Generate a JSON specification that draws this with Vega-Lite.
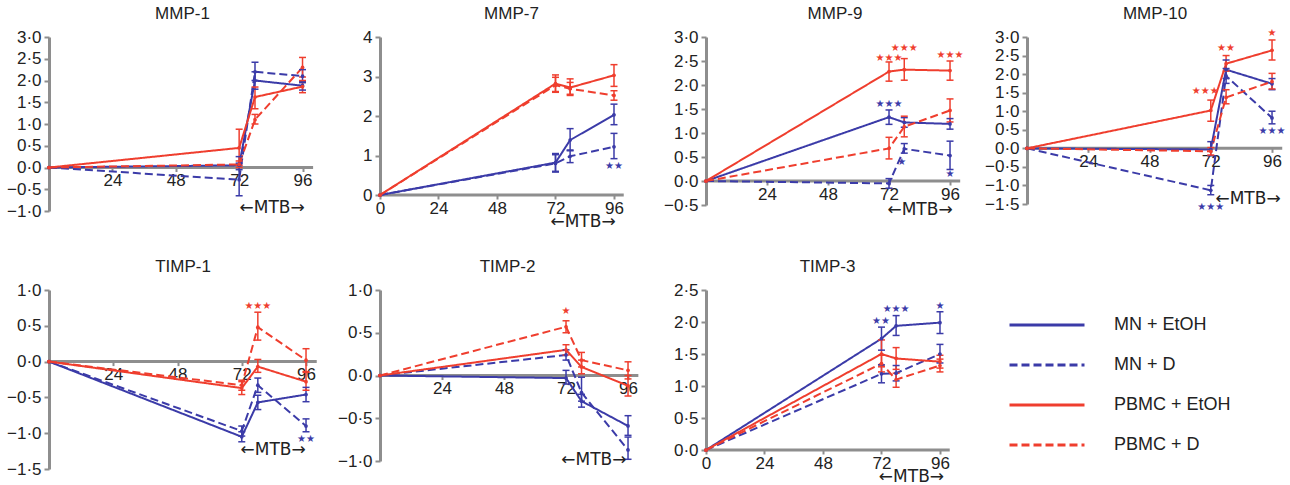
{
"$schema":"https://vega.github.io/schema/vega-lite/v6.json",
"padding":{"left":6,"top":5,"right":5,"bottom":5},
"background":"white",
"datasets":{
"d":[
{"p":"MMP-1","g":"MN + EtOH","t":0,"v":0},{"p":"MMP-1","g":"MN + EtOH","t":72,"v":0.05,"lo":-0.05,"hi":0.25},{"p":"MMP-1","g":"MN + EtOH","t":78,"v":2.0,"lo":1.8,"hi":2.2},{"p":"MMP-1","g":"MN + EtOH","t":96,"v":1.88,"lo":1.78,"hi":1.98},
{"p":"MMP-1","g":"MN + D","t":0,"v":0},{"p":"MMP-1","g":"MN + D","t":72,"v":-0.28,"lo":-0.65,"hi":0.1},{"p":"MMP-1","g":"MN + D","t":78,"v":2.2,"lo":2.0,"hi":2.42},{"p":"MMP-1","g":"MN + D","t":96,"v":2.1,"lo":1.95,"hi":2.25},
{"p":"MMP-1","g":"PBMC + EtOH","t":0,"v":0},{"p":"MMP-1","g":"PBMC + EtOH","t":72,"v":0.45,"lo":0.05,"hi":0.88},{"p":"MMP-1","g":"PBMC + EtOH","t":78,"v":1.62,"lo":1.35,"hi":1.85},{"p":"MMP-1","g":"PBMC + EtOH","t":96,"v":1.86,"lo":1.72,"hi":2.0},
{"p":"MMP-1","g":"PBMC + D","t":0,"v":0},{"p":"MMP-1","g":"PBMC + D","t":72,"v":0.07,"lo":0.0,"hi":0.15},{"p":"MMP-1","g":"PBMC + D","t":78,"v":1.1,"lo":1.0,"hi":1.22},{"p":"MMP-1","g":"PBMC + D","t":96,"v":2.3,"lo":2.08,"hi":2.53},

{"p":"MMP-7","g":"MN + EtOH","t":0,"v":0},{"p":"MMP-7","g":"MN + EtOH","t":72,"v":0.82,"lo":0.6,"hi":1.05},{"p":"MMP-7","g":"MN + EtOH","t":78,"v":1.39,"lo":1.12,"hi":1.68},{"p":"MMP-7","g":"MN + EtOH","t":96,"v":2.03,"lo":1.78,"hi":2.3},
{"p":"MMP-7","g":"MN + D","t":0,"v":0},{"p":"MMP-7","g":"MN + D","t":72,"v":0.8,"lo":0.58,"hi":1.02},{"p":"MMP-7","g":"MN + D","t":78,"v":0.98,"lo":0.82,"hi":1.14},{"p":"MMP-7","g":"MN + D","t":96,"v":1.22,"lo":0.92,"hi":1.56},
{"p":"MMP-7","g":"PBMC + EtOH","t":0,"v":0},{"p":"MMP-7","g":"PBMC + EtOH","t":72,"v":2.82,"lo":2.62,"hi":3.04},{"p":"MMP-7","g":"PBMC + EtOH","t":78,"v":2.72,"lo":2.52,"hi":2.94},{"p":"MMP-7","g":"PBMC + EtOH","t":96,"v":3.03,"lo":2.75,"hi":3.3},
{"p":"MMP-7","g":"PBMC + D","t":0,"v":0},{"p":"MMP-7","g":"PBMC + D","t":72,"v":2.78,"lo":2.6,"hi":2.98},{"p":"MMP-7","g":"PBMC + D","t":78,"v":2.69,"lo":2.55,"hi":2.85},{"p":"MMP-7","g":"PBMC + D","t":96,"v":2.52,"lo":2.4,"hi":2.64},

{"p":"MMP-9","g":"MN + EtOH","t":0,"v":0},{"p":"MMP-9","g":"MN + EtOH","t":72,"v":1.33,"lo":1.18,"hi":1.48},{"p":"MMP-9","g":"MN + EtOH","t":78,"v":1.22,"lo":1.12,"hi":1.32},{"p":"MMP-9","g":"MN + EtOH","t":96,"v":1.19,"lo":1.08,"hi":1.3},
{"p":"MMP-9","g":"MN + D","t":0,"v":0},{"p":"MMP-9","g":"MN + D","t":72,"v":-0.05,"lo":-0.15,"hi":0.05},{"p":"MMP-9","g":"MN + D","t":78,"v":0.67,"lo":0.58,"hi":0.78},{"p":"MMP-9","g":"MN + D","t":96,"v":0.53,"lo":0.24,"hi":0.83},
{"p":"MMP-9","g":"PBMC + EtOH","t":0,"v":0},{"p":"MMP-9","g":"PBMC + EtOH","t":72,"v":2.28,"lo":2.08,"hi":2.48},{"p":"MMP-9","g":"PBMC + EtOH","t":78,"v":2.32,"lo":2.1,"hi":2.55},{"p":"MMP-9","g":"PBMC + EtOH","t":96,"v":2.3,"lo":2.1,"hi":2.5},
{"p":"MMP-9","g":"PBMC + D","t":0,"v":0},{"p":"MMP-9","g":"PBMC + D","t":72,"v":0.68,"lo":0.46,"hi":0.91},{"p":"MMP-9","g":"PBMC + D","t":78,"v":1.13,"lo":0.92,"hi":1.35},{"p":"MMP-9","g":"PBMC + D","t":96,"v":1.47,"lo":1.23,"hi":1.71},

{"p":"MMP-10","g":"MN + EtOH","t":0,"v":0},{"p":"MMP-10","g":"MN + EtOH","t":72,"v":-0.03,"lo":-0.2,"hi":0.18},{"p":"MMP-10","g":"MN + EtOH","t":78,"v":2.12,"lo":1.88,"hi":2.38},{"p":"MMP-10","g":"MN + EtOH","t":96,"v":1.74,"lo":1.58,"hi":1.88},
{"p":"MMP-10","g":"MN + D","t":0,"v":0},{"p":"MMP-10","g":"MN + D","t":72,"v":-1.13,"lo":-1.25,"hi":-1.0},{"p":"MMP-10","g":"MN + D","t":78,"v":1.95,"lo":1.75,"hi":2.15},{"p":"MMP-10","g":"MN + D","t":96,"v":0.82,"lo":0.66,"hi":1.0},
{"p":"MMP-10","g":"PBMC + EtOH","t":0,"v":0},{"p":"MMP-10","g":"PBMC + EtOH","t":72,"v":1.02,"lo":0.73,"hi":1.3},{"p":"MMP-10","g":"PBMC + EtOH","t":78,"v":2.28,"lo":2.08,"hi":2.5},{"p":"MMP-10","g":"PBMC + EtOH","t":96,"v":2.64,"lo":2.38,"hi":2.92},
{"p":"MMP-10","g":"PBMC + D","t":0,"v":0},{"p":"MMP-10","g":"PBMC + D","t":72,"v":-0.08,"lo":-0.18,"hi":0.02},{"p":"MMP-10","g":"PBMC + D","t":78,"v":1.37,"lo":1.2,"hi":1.58},{"p":"MMP-10","g":"PBMC + D","t":96,"v":1.8,"lo":1.6,"hi":2.02},

{"p":"TIMP-1","g":"MN + EtOH","t":0,"v":0},{"p":"TIMP-1","g":"MN + EtOH","t":72,"v":-1.05,"lo":-1.12,"hi":-0.98},{"p":"TIMP-1","g":"MN + EtOH","t":78,"v":-0.57,"lo":-0.67,"hi":-0.47},{"p":"TIMP-1","g":"MN + EtOH","t":96,"v":-0.46,"lo":-0.56,"hi":-0.36},
{"p":"TIMP-1","g":"MN + D","t":0,"v":0},{"p":"TIMP-1","g":"MN + D","t":72,"v":-0.97,"lo":-1.04,"hi":-0.9},{"p":"TIMP-1","g":"MN + D","t":78,"v":-0.33,"lo":-0.43,"hi":-0.23},{"p":"TIMP-1","g":"MN + D","t":96,"v":-0.9,"lo":-0.98,"hi":-0.8},
{"p":"TIMP-1","g":"PBMC + EtOH","t":0,"v":0},{"p":"TIMP-1","g":"PBMC + EtOH","t":72,"v":-0.37,"lo":-0.46,"hi":-0.28},{"p":"TIMP-1","g":"PBMC + EtOH","t":78,"v":-0.07,"lo":-0.15,"hi":0.03},{"p":"TIMP-1","g":"PBMC + EtOH","t":96,"v":-0.28,"lo":-0.4,"hi":-0.15},
{"p":"TIMP-1","g":"PBMC + D","t":0,"v":0},{"p":"TIMP-1","g":"PBMC + D","t":72,"v":-0.33,"lo":-0.4,"hi":-0.26},{"p":"TIMP-1","g":"PBMC + D","t":78,"v":0.48,"lo":0.3,"hi":0.69},{"p":"TIMP-1","g":"PBMC + D","t":96,"v":0.02,"lo":-0.14,"hi":0.18},

{"p":"TIMP-2","g":"MN + EtOH","t":0,"v":0},{"p":"TIMP-2","g":"MN + EtOH","t":72,"v":-0.03,"lo":-0.1,"hi":0.06},{"p":"TIMP-2","g":"MN + EtOH","t":78,"v":-0.3,"lo":-0.37,"hi":-0.22},{"p":"TIMP-2","g":"MN + EtOH","t":96,"v":-0.59,"lo":-0.7,"hi":-0.47},
{"p":"TIMP-2","g":"MN + D","t":0,"v":0},{"p":"TIMP-2","g":"MN + D","t":72,"v":0.24,"lo":0.18,"hi":0.3},{"p":"TIMP-2","g":"MN + D","t":78,"v":-0.2,"lo":-0.3,"hi":-0.02},{"p":"TIMP-2","g":"MN + D","t":96,"v":-0.87,"lo":-0.98,"hi":-0.72},
{"p":"TIMP-2","g":"PBMC + EtOH","t":0,"v":0},{"p":"TIMP-2","g":"PBMC + EtOH","t":72,"v":0.3,"lo":0.24,"hi":0.36},{"p":"TIMP-2","g":"PBMC + EtOH","t":78,"v":0.1,"lo":0.02,"hi":0.18},{"p":"TIMP-2","g":"PBMC + EtOH","t":96,"v":-0.12,"lo":-0.24,"hi":0.0},
{"p":"TIMP-2","g":"PBMC + D","t":0,"v":0},{"p":"TIMP-2","g":"PBMC + D","t":72,"v":0.57,"lo":0.5,"hi":0.64},{"p":"TIMP-2","g":"PBMC + D","t":78,"v":0.18,"lo":0.1,"hi":0.27},{"p":"TIMP-2","g":"PBMC + D","t":96,"v":0.06,"lo":-0.04,"hi":0.16},

{"p":"TIMP-3","g":"MN + EtOH","t":0,"v":0},{"p":"TIMP-3","g":"MN + EtOH","t":72,"v":1.74,"lo":1.56,"hi":1.92},{"p":"TIMP-3","g":"MN + EtOH","t":78,"v":1.94,"lo":1.79,"hi":2.1},{"p":"TIMP-3","g":"MN + EtOH","t":96,"v":1.99,"lo":1.82,"hi":2.16},
{"p":"TIMP-3","g":"MN + D","t":0,"v":0},{"p":"TIMP-3","g":"MN + D","t":72,"v":1.19,"lo":1.05,"hi":1.33},{"p":"TIMP-3","g":"MN + D","t":78,"v":1.2,"lo":1.08,"hi":1.32},{"p":"TIMP-3","g":"MN + D","t":96,"v":1.5,"lo":1.36,"hi":1.65},
{"p":"TIMP-3","g":"PBMC + EtOH","t":0,"v":0},{"p":"TIMP-3","g":"PBMC + EtOH","t":72,"v":1.5,"lo":1.3,"hi":1.72},{"p":"TIMP-3","g":"PBMC + EtOH","t":78,"v":1.43,"lo":1.26,"hi":1.6},{"p":"TIMP-3","g":"PBMC + EtOH","t":96,"v":1.38,"lo":1.28,"hi":1.48},
{"p":"TIMP-3","g":"PBMC + D","t":0,"v":0},{"p":"TIMP-3","g":"PBMC + D","t":72,"v":1.35,"lo":1.22,"hi":1.48},{"p":"TIMP-3","g":"PBMC + D","t":78,"v":1.1,"lo":0.98,"hi":1.2},{"p":"TIMP-3","g":"PBMC + D","t":96,"v":1.32,"lo":1.22,"hi":1.42}
],
"s":[
{"p":"MMP-7","g":"MN + EtOH","t":96,"v":0.74,"s":"★★"},
{"p":"MMP-9","g":"PBMC + EtOH","t":72,"v":2.56,"s":"★★★"},
{"p":"MMP-9","g":"PBMC + EtOH","t":78,"v":2.77,"s":"★★★"},
{"p":"MMP-9","g":"PBMC + EtOH","t":96,"v":2.63,"s":"★★★"},
{"p":"MMP-9","g":"MN + EtOH","t":72,"v":1.6,"s":"★★★"},
{"p":"MMP-9","g":"MN + EtOH","t":77,"v":0.4,"s":"★"},
{"p":"MMP-9","g":"MN + EtOH","t":96,"v":0.14,"s":"★"},
{"p":"MMP-10","g":"PBMC + EtOH","t":69.8,"v":1.54,"s":"★★★"},
{"p":"MMP-10","g":"PBMC + EtOH","t":78,"v":2.7,"s":"★★"},
{"p":"MMP-10","g":"PBMC + EtOH","t":96,"v":3.1,"s":"★"},
{"p":"MMP-10","g":"MN + EtOH","t":96,"v":0.46,"s":"★★★"},
{"p":"MMP-10","g":"MN + EtOH","t":72,"v":-1.57,"s":"★★★"},
{"p":"TIMP-1","g":"PBMC + EtOH","t":78,"v":0.77,"s":"★★★"},
{"p":"TIMP-1","g":"MN + EtOH","t":96,"v":-1.08,"s":"★★"},
{"p":"TIMP-2","g":"PBMC + EtOH","t":72,"v":0.75,"s":"★"},
{"p":"TIMP-3","g":"MN + EtOH","t":71.8,"v":2.02,"s":"★★"},
{"p":"TIMP-3","g":"MN + EtOH","t":78,"v":2.21,"s":"★★★"},
{"p":"TIMP-3","g":"MN + EtOH","t":96,"v":2.25,"s":"★"}
],
"m":[
{"p":"MMP-1","t":84.5,"v":-0.93,"label":"←MTB→"},
{"p":"MMP-7","t":83.3,"v":-0.68,"label":"←MTB→"},
{"p":"MMP-9","t":84.2,"v":-0.6,"label":"←MTB→"},
{"p":"MMP-10","t":86.6,"v":-1.37,"label":"←MTB→"},
{"p":"TIMP-1","t":83.7,"v":-1.24,"label":"←MTB→"},
{"p":"TIMP-2","t":82.8,"v":-0.99,"label":"←MTB→"},
{"p":"TIMP-3","t":84.3,"v":-0.42,"label":"←MTB→"}
]
},
"concat":[
{"width":267,"height":174,"title":"MMP-1","layer":[
 {"data":{"values":[{}]},"mark":{"type":"rule","color":"#8e8e8e","strokeWidth":3},"encoding":{
  "x":{"datum":0,"type":"quantitative","title":null,"scale":{"domain":[0,101.1],"nice":false,"zero":false},"axis":{"values":[24,48,72,96],"offset":-43.5,"domain":false,"labelFlush":false,"labelOverlap":false}},
  "x2":{"datum":100},
  "y":{"datum":0,"type":"quantitative","title":null,"scale":{"domain":[-1,3],"nice":false,"zero":false},"axis":{"values":[-1,-0.5,0,0.5,1,1.5,2,2.5,3],"tickCount":9,"labelOverlap":false,"labelExpr":"replace(replace(format(datum.value,'.1f'),'.','·'),'-','−')"}}}},
 {"data":{"name":"d"},"transform":[{"filter":"datum.p=='MMP-1'"}],"mark":{"type":"line","strokeWidth":2},"encoding":{
  "x":{"field":"t","type":"quantitative","title":null},
  "y":{"field":"v","type":"quantitative","title":null},
  "color":{"field":"g","type":"nominal","title":null,"scale":{"domain":["MN + EtOH","MN + D","PBMC + EtOH","PBMC + D"],"range":["#3b3ba8","#3b3ba8","#ef3e2e","#ef3e2e"]},"legend":{"orient":"none","legendX":959,"legendY":278,"title":null}},
  "strokeDash":{"field":"g","type":"nominal","title":null,"scale":{"domain":["MN + EtOH","MN + D","PBMC + EtOH","PBMC + D"],"range":[[1,0],[8,4],[1,0],[8,4]]},"legend":{"orient":"none","legendX":959,"legendY":278,"title":null}}}},
 {"data":{"name":"d"},"transform":[{"filter":"datum.p=='MMP-1' && datum.t>0"}],"mark":{"type":"rule","strokeWidth":1.5},"encoding":{"x":{"field":"t","type":"quantitative","title":null},"y":{"field":"lo","type":"quantitative","title":null},"y2":{"field":"hi"},"stroke":{"field":"g","type":"nominal","scale":{"domain":["MN + EtOH","MN + D","PBMC + EtOH","PBMC + D"],"range":["#3b3ba8","#3b3ba8","#ef3e2e","#ef3e2e"]},"legend":null}}},
 {"data":{"name":"d"},"transform":[{"filter":"datum.p=='MMP-1' && datum.t>0"}],"mark":{"type":"tick","orient":"horizontal","size":7,"thickness":1.5,"opacity":1},"encoding":{"x":{"field":"t","type":"quantitative","title":null},"y":{"field":"lo","type":"quantitative","title":null},"fill":{"field":"g","type":"nominal","scale":{"domain":["MN + EtOH","MN + D","PBMC + EtOH","PBMC + D"],"range":["#3b3ba8","#3b3ba8","#ef3e2e","#ef3e2e"]},"legend":null}}},
 {"data":{"name":"d"},"transform":[{"filter":"datum.p=='MMP-1' && datum.t>0"}],"mark":{"type":"tick","orient":"horizontal","size":7,"thickness":1.5,"opacity":1},"encoding":{"x":{"field":"t","type":"quantitative","title":null},"y":{"field":"hi","type":"quantitative","title":null},"fill":{"field":"g","type":"nominal","legend":null}}},
 {"data":{"name":"d"},"transform":[{"filter":"datum.p=='MMP-1'"}],"mark":{"type":"point","filled":true,"size":14,"opacity":1},"encoding":{"x":{"field":"t","type":"quantitative","title":null},"y":{"field":"v","type":"quantitative","title":null},"fill":{"field":"g","type":"nominal","legend":null}}},
 {"data":{"name":"s"},"transform":[{"filter":"datum.p=='MMP-1'"}],"mark":{"type":"text","fontSize":10,"font":"DejaVu Sans"},"encoding":{"x":{"field":"t","type":"quantitative","title":null},"y":{"field":"v","type":"quantitative","title":null},"text":{"field":"s"},"fill":{"field":"g","type":"nominal","legend":null}}},
 {"data":{"name":"m"},"transform":[{"filter":"datum.p=='MMP-1'"}],"mark":{"type":"text","fontSize":17,"font":"DejaVu Sans","color":"#222"},"encoding":{"x":{"field":"t","type":"quantitative","title":null},"y":{"field":"v","type":"quantitative","title":null},"text":{"field":"label"}}}
]},
{"width":263,"height":158,"title":"MMP-7","layer":[
 {"data":{"values":[{}]},"mark":{"type":"rule","color":"#8e8e8e","strokeWidth":3},"encoding":{
  "x":{"datum":0,"type":"quantitative","title":null,"scale":{"domain":[0,107.9],"nice":false,"zero":false},"axis":{"values":[0,24,48,72,96],"offset":0,"domain":false,"labelFlush":false,"labelOverlap":false}},
  "x2":{"datum":100},
  "y":{"datum":0,"type":"quantitative","title":null,"scale":{"domain":[0,4],"nice":false,"zero":false},"axis":{"values":[0,1,2,3,4],"tickCount":5,"labelOverlap":false,"format":"d"}}}},
 {"data":{"name":"d"},"transform":[{"filter":"datum.p=='MMP-7'"}],"mark":{"type":"line","strokeWidth":2},"encoding":{
  "x":{"field":"t","type":"quantitative","title":null},
  "y":{"field":"v","type":"quantitative","title":null},
  "color":{"field":"g","type":"nominal","title":null},
  "strokeDash":{"field":"g","type":"nominal","title":null}}},
 {"data":{"name":"d"},"transform":[{"filter":"datum.p=='MMP-7' && datum.t>0"}],"mark":{"type":"rule","strokeWidth":1.5},"encoding":{"x":{"field":"t","type":"quantitative","title":null},"y":{"field":"lo","type":"quantitative","title":null},"y2":{"field":"hi"},"stroke":{"field":"g","type":"nominal","legend":null}}},
 {"data":{"name":"d"},"transform":[{"filter":"datum.p=='MMP-7' && datum.t>0"}],"mark":{"type":"tick","orient":"horizontal","size":7,"thickness":1.5,"opacity":1},"encoding":{"x":{"field":"t","type":"quantitative","title":null},"y":{"field":"lo","type":"quantitative","title":null},"fill":{"field":"g","type":"nominal","legend":null}}},
 {"data":{"name":"d"},"transform":[{"filter":"datum.p=='MMP-7' && datum.t>0"}],"mark":{"type":"tick","orient":"horizontal","size":7,"thickness":1.5,"opacity":1},"encoding":{"x":{"field":"t","type":"quantitative","title":null},"y":{"field":"hi","type":"quantitative","title":null},"fill":{"field":"g","type":"nominal","legend":null}}},
 {"data":{"name":"d"},"transform":[{"filter":"datum.p=='MMP-7'"}],"mark":{"type":"point","filled":true,"size":14,"opacity":1},"encoding":{"x":{"field":"t","type":"quantitative","title":null},"y":{"field":"v","type":"quantitative","title":null},"fill":{"field":"g","type":"nominal","legend":null}}},
 {"data":{"name":"s"},"transform":[{"filter":"datum.p=='MMP-7'"}],"mark":{"type":"text","fontSize":10,"font":"DejaVu Sans"},"encoding":{"x":{"field":"t","type":"quantitative","title":null},"y":{"field":"v","type":"quantitative","title":null},"text":{"field":"s"},"fill":{"field":"g","type":"nominal","legend":null}}},
 {"data":{"name":"m"},"transform":[{"filter":"datum.p=='MMP-7'"}],"mark":{"type":"text","fontSize":17,"font":"DejaVu Sans","color":"#222"},"encoding":{"x":{"field":"t","type":"quantitative","title":null},"y":{"field":"v","type":"quantitative","title":null},"text":{"field":"label"}}}
]},
{"width":258,"height":168,"title":"MMP-9","layer":[
 {"data":{"values":[{}]},"mark":{"type":"rule","color":"#8e8e8e","strokeWidth":3},"encoding":{
  "x":{"datum":0,"type":"quantitative","title":null,"scale":{"domain":[0,101.5],"nice":false,"zero":false},"axis":{"values":[24,48,72,96],"offset":-24,"domain":false,"labelFlush":false,"labelOverlap":false}},
  "x2":{"datum":100},
  "y":{"datum":0,"type":"quantitative","title":null,"scale":{"domain":[-0.5,3],"nice":false,"zero":false},"axis":{"values":[-0.5,0,0.5,1,1.5,2,2.5,3],"tickCount":8,"labelOverlap":false,"labelExpr":"replace(replace(format(datum.value,'.1f'),'.','·'),'-','−')"}}}},
 {"data":{"name":"d"},"transform":[{"filter":"datum.p=='MMP-9'"}],"mark":{"type":"line","strokeWidth":2},"encoding":{
  "x":{"field":"t","type":"quantitative","title":null},
  "y":{"field":"v","type":"quantitative","title":null},
  "color":{"field":"g","type":"nominal","title":null},
  "strokeDash":{"field":"g","type":"nominal","title":null}}},
 {"data":{"name":"d"},"transform":[{"filter":"datum.p=='MMP-9' && datum.t>0"}],"mark":{"type":"rule","strokeWidth":1.5},"encoding":{"x":{"field":"t","type":"quantitative","title":null},"y":{"field":"lo","type":"quantitative","title":null},"y2":{"field":"hi"},"stroke":{"field":"g","type":"nominal","legend":null}}},
 {"data":{"name":"d"},"transform":[{"filter":"datum.p=='MMP-9' && datum.t>0"}],"mark":{"type":"tick","orient":"horizontal","size":7,"thickness":1.5,"opacity":1},"encoding":{"x":{"field":"t","type":"quantitative","title":null},"y":{"field":"lo","type":"quantitative","title":null},"fill":{"field":"g","type":"nominal","legend":null}}},
 {"data":{"name":"d"},"transform":[{"filter":"datum.p=='MMP-9' && datum.t>0"}],"mark":{"type":"tick","orient":"horizontal","size":7,"thickness":1.5,"opacity":1},"encoding":{"x":{"field":"t","type":"quantitative","title":null},"y":{"field":"hi","type":"quantitative","title":null},"fill":{"field":"g","type":"nominal","legend":null}}},
 {"data":{"name":"d"},"transform":[{"filter":"datum.p=='MMP-9'"}],"mark":{"type":"point","filled":true,"size":14,"opacity":1},"encoding":{"x":{"field":"t","type":"quantitative","title":null},"y":{"field":"v","type":"quantitative","title":null},"fill":{"field":"g","type":"nominal","legend":null}}},
 {"data":{"name":"s"},"transform":[{"filter":"datum.p=='MMP-9'"}],"mark":{"type":"text","fontSize":10,"font":"DejaVu Sans"},"encoding":{"x":{"field":"t","type":"quantitative","title":null},"y":{"field":"v","type":"quantitative","title":null},"text":{"field":"s"},"fill":{"field":"g","type":"nominal","legend":null}}},
 {"data":{"name":"m"},"transform":[{"filter":"datum.p=='MMP-9'"}],"mark":{"type":"text","fontSize":17,"font":"DejaVu Sans","color":"#222"},"encoding":{"x":{"field":"t","type":"quantitative","title":null},"y":{"field":"v","type":"quantitative","title":null},"text":{"field":"label"}}}
]},
{"width":256,"height":167,"title":"MMP-10","layer":[
 {"data":{"values":[{}]},"mark":{"type":"rule","color":"#8e8e8e","strokeWidth":3},"encoding":{
  "x":{"datum":0,"type":"quantitative","title":null,"scale":{"domain":[0,100.3],"nice":false,"zero":false},"axis":{"values":[24,48,72,96],"offset":-55.67,"domain":false,"labelFlush":false,"labelOverlap":false}},
  "x2":{"datum":100},
  "y":{"datum":0,"type":"quantitative","title":null,"scale":{"domain":[-1.5,3],"nice":false,"zero":false},"axis":{"values":[-1.5,-1,-0.5,0,0.5,1,1.5,2,2.5,3],"tickCount":10,"labelOverlap":false,"labelExpr":"replace(replace(format(datum.value,'.1f'),'.','·'),'-','−')"}}}},
 {"data":{"name":"d"},"transform":[{"filter":"datum.p=='MMP-10'"}],"mark":{"type":"line","strokeWidth":2},"encoding":{
  "x":{"field":"t","type":"quantitative","title":null},
  "y":{"field":"v","type":"quantitative","title":null},
  "color":{"field":"g","type":"nominal","title":null},
  "strokeDash":{"field":"g","type":"nominal","title":null}}},
 {"data":{"name":"d"},"transform":[{"filter":"datum.p=='MMP-10' && datum.t>0"}],"mark":{"type":"rule","strokeWidth":1.5},"encoding":{"x":{"field":"t","type":"quantitative","title":null},"y":{"field":"lo","type":"quantitative","title":null},"y2":{"field":"hi"},"stroke":{"field":"g","type":"nominal","legend":null}}},
 {"data":{"name":"d"},"transform":[{"filter":"datum.p=='MMP-10' && datum.t>0"}],"mark":{"type":"tick","orient":"horizontal","size":7,"thickness":1.5,"opacity":1},"encoding":{"x":{"field":"t","type":"quantitative","title":null},"y":{"field":"lo","type":"quantitative","title":null},"fill":{"field":"g","type":"nominal","legend":null}}},
 {"data":{"name":"d"},"transform":[{"filter":"datum.p=='MMP-10' && datum.t>0"}],"mark":{"type":"tick","orient":"horizontal","size":7,"thickness":1.5,"opacity":1},"encoding":{"x":{"field":"t","type":"quantitative","title":null},"y":{"field":"hi","type":"quantitative","title":null},"fill":{"field":"g","type":"nominal","legend":null}}},
 {"data":{"name":"d"},"transform":[{"filter":"datum.p=='MMP-10'"}],"mark":{"type":"point","filled":true,"size":14,"opacity":1},"encoding":{"x":{"field":"t","type":"quantitative","title":null},"y":{"field":"v","type":"quantitative","title":null},"fill":{"field":"g","type":"nominal","legend":null}}},
 {"data":{"name":"s"},"transform":[{"filter":"datum.p=='MMP-10'"}],"mark":{"type":"text","fontSize":10,"font":"DejaVu Sans"},"encoding":{"x":{"field":"t","type":"quantitative","title":null},"y":{"field":"v","type":"quantitative","title":null},"text":{"field":"s"},"fill":{"field":"g","type":"nominal","legend":null}}},
 {"data":{"name":"m"},"transform":[{"filter":"datum.p=='MMP-10'"}],"mark":{"type":"text","fontSize":17,"font":"DejaVu Sans","color":"#222"},"encoding":{"x":{"field":"t","type":"quantitative","title":null},"y":{"field":"v","type":"quantitative","title":null},"text":{"field":"label"}}}
]},
{"width":268,"height":179,"title":"TIMP-1","layer":[
 {"data":{"values":[{}]},"mark":{"type":"rule","color":"#8e8e8e","strokeWidth":3},"encoding":{
  "x":{"datum":0,"type":"quantitative","title":null,"scale":{"domain":[0,100.1],"nice":false,"zero":false},"axis":{"values":[24,48,72,96],"offset":-107.4,"domain":false,"labelFlush":false,"labelOverlap":false}},
  "x2":{"datum":100},
  "y":{"datum":0,"type":"quantitative","title":null,"scale":{"domain":[-1.5,1],"nice":false,"zero":false},"axis":{"values":[-1.5,-1,-0.5,0,0.5,1],"tickCount":6,"labelOverlap":false,"labelExpr":"replace(replace(format(datum.value,'.1f'),'.','·'),'-','−')"}}}},
 {"data":{"name":"d"},"transform":[{"filter":"datum.p=='TIMP-1'"}],"mark":{"type":"line","strokeWidth":2},"encoding":{
  "x":{"field":"t","type":"quantitative","title":null},
  "y":{"field":"v","type":"quantitative","title":null},
  "color":{"field":"g","type":"nominal","title":null},
  "strokeDash":{"field":"g","type":"nominal","title":null}}},
 {"data":{"name":"d"},"transform":[{"filter":"datum.p=='TIMP-1' && datum.t>0"}],"mark":{"type":"rule","strokeWidth":1.5},"encoding":{"x":{"field":"t","type":"quantitative","title":null},"y":{"field":"lo","type":"quantitative","title":null},"y2":{"field":"hi"},"stroke":{"field":"g","type":"nominal","legend":null}}},
 {"data":{"name":"d"},"transform":[{"filter":"datum.p=='TIMP-1' && datum.t>0"}],"mark":{"type":"tick","orient":"horizontal","size":7,"thickness":1.5,"opacity":1},"encoding":{"x":{"field":"t","type":"quantitative","title":null},"y":{"field":"lo","type":"quantitative","title":null},"fill":{"field":"g","type":"nominal","legend":null}}},
 {"data":{"name":"d"},"transform":[{"filter":"datum.p=='TIMP-1' && datum.t>0"}],"mark":{"type":"tick","orient":"horizontal","size":7,"thickness":1.5,"opacity":1},"encoding":{"x":{"field":"t","type":"quantitative","title":null},"y":{"field":"hi","type":"quantitative","title":null},"fill":{"field":"g","type":"nominal","legend":null}}},
 {"data":{"name":"d"},"transform":[{"filter":"datum.p=='TIMP-1'"}],"mark":{"type":"point","filled":true,"size":14,"opacity":1},"encoding":{"x":{"field":"t","type":"quantitative","title":null},"y":{"field":"v","type":"quantitative","title":null},"fill":{"field":"g","type":"nominal","legend":null}}},
 {"data":{"name":"s"},"transform":[{"filter":"datum.p=='TIMP-1'"}],"mark":{"type":"text","fontSize":10,"font":"DejaVu Sans"},"encoding":{"x":{"field":"t","type":"quantitative","title":null},"y":{"field":"v","type":"quantitative","title":null},"text":{"field":"s"},"fill":{"field":"g","type":"nominal","legend":null}}},
 {"data":{"name":"m"},"transform":[{"filter":"datum.p=='TIMP-1'"}],"mark":{"type":"text","fontSize":17,"font":"DejaVu Sans","color":"#222"},"encoding":{"x":{"field":"t","type":"quantitative","title":null},"y":{"field":"v","type":"quantitative","title":null},"text":{"field":"label"}}}
]},
{"width":255,"height":171,"title":"TIMP-2","layer":[
 {"data":{"values":[{}]},"mark":{"type":"rule","color":"#8e8e8e","strokeWidth":3},"encoding":{
  "x":{"datum":0,"type":"quantitative","title":null,"scale":{"domain":[0,98.7],"nice":false,"zero":false},"axis":{"values":[24,48,72,96],"offset":-85.5,"domain":false,"labelFlush":false,"labelOverlap":false}},
  "x2":{"datum":100},
  "y":{"datum":0,"type":"quantitative","title":null,"scale":{"domain":[-1,1],"nice":false,"zero":false},"axis":{"values":[-1,-0.5,0,0.5,1],"tickCount":5,"labelOverlap":false,"labelExpr":"replace(replace(format(datum.value,'.1f'),'.','·'),'-','−')"}}}},
 {"data":{"name":"d"},"transform":[{"filter":"datum.p=='TIMP-2'"}],"mark":{"type":"line","strokeWidth":2},"encoding":{
  "x":{"field":"t","type":"quantitative","title":null},
  "y":{"field":"v","type":"quantitative","title":null},
  "color":{"field":"g","type":"nominal","title":null},
  "strokeDash":{"field":"g","type":"nominal","title":null}}},
 {"data":{"name":"d"},"transform":[{"filter":"datum.p=='TIMP-2' && datum.t>0"}],"mark":{"type":"rule","strokeWidth":1.5},"encoding":{"x":{"field":"t","type":"quantitative","title":null},"y":{"field":"lo","type":"quantitative","title":null},"y2":{"field":"hi"},"stroke":{"field":"g","type":"nominal","legend":null}}},
 {"data":{"name":"d"},"transform":[{"filter":"datum.p=='TIMP-2' && datum.t>0"}],"mark":{"type":"tick","orient":"horizontal","size":7,"thickness":1.5,"opacity":1},"encoding":{"x":{"field":"t","type":"quantitative","title":null},"y":{"field":"lo","type":"quantitative","title":null},"fill":{"field":"g","type":"nominal","legend":null}}},
 {"data":{"name":"d"},"transform":[{"filter":"datum.p=='TIMP-2' && datum.t>0"}],"mark":{"type":"tick","orient":"horizontal","size":7,"thickness":1.5,"opacity":1},"encoding":{"x":{"field":"t","type":"quantitative","title":null},"y":{"field":"hi","type":"quantitative","title":null},"fill":{"field":"g","type":"nominal","legend":null}}},
 {"data":{"name":"d"},"transform":[{"filter":"datum.p=='TIMP-2'"}],"mark":{"type":"point","filled":true,"size":14,"opacity":1},"encoding":{"x":{"field":"t","type":"quantitative","title":null},"y":{"field":"v","type":"quantitative","title":null},"fill":{"field":"g","type":"nominal","legend":null}}},
 {"data":{"name":"s"},"transform":[{"filter":"datum.p=='TIMP-2'"}],"mark":{"type":"text","fontSize":10,"font":"DejaVu Sans"},"encoding":{"x":{"field":"t","type":"quantitative","title":null},"y":{"field":"v","type":"quantitative","title":null},"text":{"field":"s"},"fill":{"field":"g","type":"nominal","legend":null}}},
 {"data":{"name":"m"},"transform":[{"filter":"datum.p=='TIMP-2'"}],"mark":{"type":"text","fontSize":17,"font":"DejaVu Sans","color":"#222"},"encoding":{"x":{"field":"t","type":"quantitative","title":null},"y":{"field":"v","type":"quantitative","title":null},"text":{"field":"label"}}}
]},
{"width":243,"height":160,"title":"TIMP-3","layer":[
 {"data":{"values":[{}]},"mark":{"type":"rule","color":"#8e8e8e","strokeWidth":3},"encoding":{
  "x":{"datum":0,"type":"quantitative","title":null,"scale":{"domain":[0,99.7],"nice":false,"zero":false},"axis":{"values":[0,24,48,72,96],"offset":0,"domain":false,"labelFlush":false,"labelOverlap":false}},
  "x2":{"datum":100},
  "y":{"datum":0,"type":"quantitative","title":null,"scale":{"domain":[0,2.5],"nice":false,"zero":false},"axis":{"values":[0,0.5,1,1.5,2,2.5],"tickCount":6,"labelOverlap":false,"labelExpr":"replace(replace(format(datum.value,'.1f'),'.','·'),'-','−')"}}}},
 {"data":{"name":"d"},"transform":[{"filter":"datum.p=='TIMP-3'"}],"mark":{"type":"line","strokeWidth":2},"encoding":{
  "x":{"field":"t","type":"quantitative","title":null},
  "y":{"field":"v","type":"quantitative","title":null},
  "color":{"field":"g","type":"nominal","title":null},
  "strokeDash":{"field":"g","type":"nominal","title":null}}},
 {"data":{"name":"d"},"transform":[{"filter":"datum.p=='TIMP-3' && datum.t>0"}],"mark":{"type":"rule","strokeWidth":1.5},"encoding":{"x":{"field":"t","type":"quantitative","title":null},"y":{"field":"lo","type":"quantitative","title":null},"y2":{"field":"hi"},"stroke":{"field":"g","type":"nominal","legend":null}}},
 {"data":{"name":"d"},"transform":[{"filter":"datum.p=='TIMP-3' && datum.t>0"}],"mark":{"type":"tick","orient":"horizontal","size":7,"thickness":1.5,"opacity":1},"encoding":{"x":{"field":"t","type":"quantitative","title":null},"y":{"field":"lo","type":"quantitative","title":null},"fill":{"field":"g","type":"nominal","legend":null}}},
 {"data":{"name":"d"},"transform":[{"filter":"datum.p=='TIMP-3' && datum.t>0"}],"mark":{"type":"tick","orient":"horizontal","size":7,"thickness":1.5,"opacity":1},"encoding":{"x":{"field":"t","type":"quantitative","title":null},"y":{"field":"hi","type":"quantitative","title":null},"fill":{"field":"g","type":"nominal","legend":null}}},
 {"data":{"name":"d"},"transform":[{"filter":"datum.p=='TIMP-3'"}],"mark":{"type":"point","filled":true,"size":14,"opacity":1},"encoding":{"x":{"field":"t","type":"quantitative","title":null},"y":{"field":"v","type":"quantitative","title":null},"fill":{"field":"g","type":"nominal","legend":null}}},
 {"data":{"name":"s"},"transform":[{"filter":"datum.p=='TIMP-3'"}],"mark":{"type":"text","fontSize":10,"font":"DejaVu Sans"},"encoding":{"x":{"field":"t","type":"quantitative","title":null},"y":{"field":"v","type":"quantitative","title":null},"text":{"field":"s"},"fill":{"field":"g","type":"nominal","legend":null}}},
 {"data":{"name":"m"},"transform":[{"filter":"datum.p=='TIMP-3'"}],"mark":{"type":"text","fontSize":17,"font":"DejaVu Sans","color":"#222"},"encoding":{"x":{"field":"t","type":"quantitative","title":null},"y":{"field":"v","type":"quantitative","title":null},"text":{"field":"label"}}}
]}
],
"columns":4,
"spacing":{"column":63,"row":79},
"bounds":"flush",
"align":"none",
"config":{
 "view":{"stroke":null},
 "axis":{"grid":false,"labelFont":"Liberation Sans","labelFontSize":17,"labelColor":"#222","domainColor":"#8e8e8e","domainWidth":3,"tickColor":"#8e8e8e","tickWidth":2,"tickSize":5,"labelPadding":3,"labelOverlap":false},
 "axisX":{"tickSize":4,"labelPadding":1},
 "title":{"font":"Liberation Sans","fontSize":17,"fontWeight":"normal","color":"#222","offset":5},
 "legend":{"symbolType":"stroke","symbolSize":5625,"symbolStrokeWidth":3,"labelFont":"Liberation Sans","labelFontSize":18,"labelColor":"#222","clipHeight":20,"rowPadding":20,"labelOffset":28,"padding":0,"labelLimit":300}
}
}
